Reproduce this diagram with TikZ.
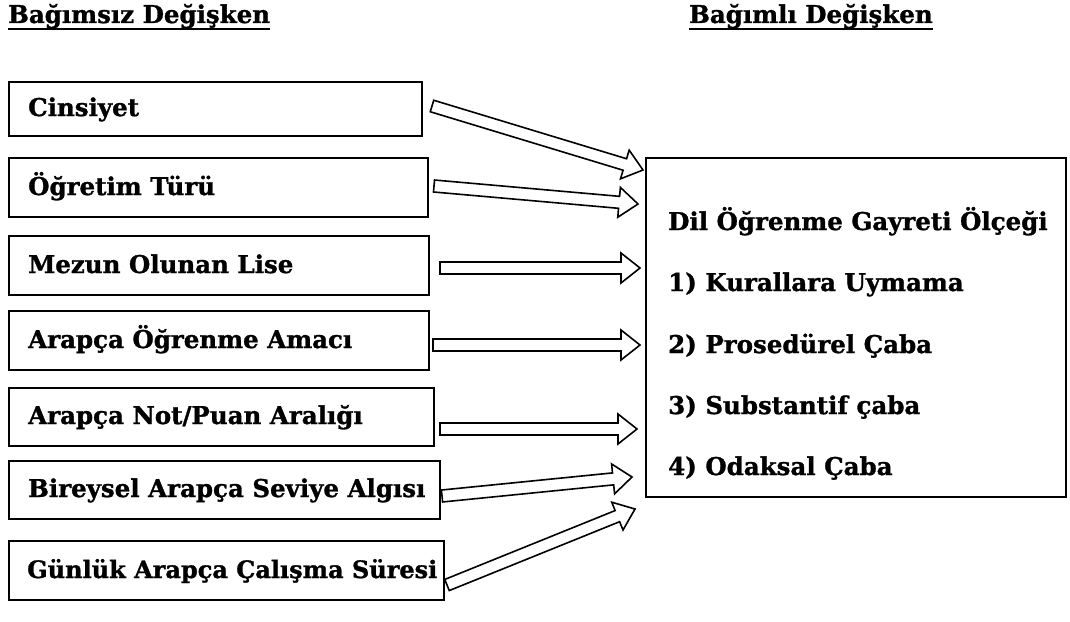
\documentclass[tikz,border=0pt]{standalone}
\usepackage{fontspec}
\setmainfont{DejaVu Serif}[BoldFeatures={FakeBold=1.2}]
\usetikzlibrary{calc}
\tikzset{
  txt/.style={font=\bfseries\fontsize{24.5}{28}\selectfont, inner sep=0pt, anchor=base west},
  lbox/.style={draw, line width=1.5pt, inner sep=0pt},
  barrow/.style={draw, line width=1.6pt, line join=miter, fill=white},
}
\newcommand\blockarr[2]{%
  \coordinate (#1h) at ($(#2)!19pt!(#1)$);
  \draw[barrow] ($(#1)!6pt!90:(#2)$) -- ($(#1h)!6pt!-90:(#1)$) -- ($(#1h)!15pt!-90:(#1)$)
    -- (#2) -- ($(#1h)!15pt!90:(#1)$) -- ($(#1h)!6pt!90:(#1)$) -- ($(#1)!6pt!-90:(#2)$) -- cycle;
}
\begin{document}
\begin{tikzpicture}[x=1pt,y=-1pt]
\useasboundingbox (0,0) rectangle (1070,621);
% headers
\node[txt] (h1) at (8,23) {Bağımsız Değişken};
\node[txt] (h2) at (689,23) {Bağımlı Değişken};
\draw[line width=2pt] ([yshift=-6pt]h1.base west) -- ([yshift=-6pt]h1.base east);
\draw[line width=2pt] ([yshift=-6pt]h2.base west) -- ([yshift=-6pt]h2.base east);
% left boxes
\node[lbox, minimum width=413pt, minimum height=54pt] (b1) at (215.5,109) {};
\node[lbox, minimum width=419pt, minimum height=59pt] (b2) at (218.5,187.5) {};
\node[lbox, minimum width=420pt, minimum height=59pt] (b3) at (219,265.5) {};
\node[lbox, minimum width=420pt, minimum height=59pt] (b4) at (219,340.5) {};
\node[lbox, minimum width=425pt, minimum height=58pt] (b5) at (221.5,417) {};
\node[lbox, minimum width=431pt, minimum height=58pt] (b6) at (224.5,490) {};
\node[lbox, minimum width=435pt, minimum height=59pt] (b7) at (226.5,570.5) {};
\node[txt] (l1) at (28,116) {Cinsiyet};
\node[txt] (l2) at (28,195) {Öğretim Türü};
\node[txt] (l3) at (28,273) {Mezun Olunan Lise};
\node[txt] (l4) at (28,348) {Arapça Öğrenme Amacı};
\node[txt] (l5) at (28,424) {Arapça Not/Puan Aralığı};
\node[txt] (l6) at (28,497) {Bireysel Arapça Seviye Algısı};
\node[txt, font=\bfseries\fontsize{24}{28}\selectfont] (l7) at (27,578) {Günlük Arapça Çalışma Süresi};
% right box
\node[lbox, minimum width=420pt, minimum height=339pt] (r) at (856,327.5) {};
\node[txt] (t0) at (668,230) {Dil Öğrenme Gayreti Ölçeği};
\node[txt] (t1) at (668,291) {1) Kurallara Uymama};
\node[txt] (t2) at (668,353) {2) Prosedürel Çaba};
\node[txt] (t3) at (668,414) {3) Substantif çaba};
\node[txt] (t4) at (668,475) {4) Odaksal Çaba};
% arrow ends
\coordinate (s1) at (432,106); \coordinate (e1) at (643,170);
\coordinate (s2) at (434,186); \coordinate (e2) at (638,204);
\coordinate (s3) at (440,268); \coordinate (e3) at (640,268);
\coordinate (s4) at (433,345); \coordinate (e4) at (640,345);
\coordinate (s5) at (440,429); \coordinate (e5) at (637,429);
\coordinate (s6) at (442,496); \coordinate (e6) at (632,477);
\coordinate (s7) at (447,585); \coordinate (e7) at (635,509);
\blockarr{s1}{e1}
\blockarr{s2}{e2}
\blockarr{s3}{e3}
\blockarr{s4}{e4}
\blockarr{s5}{e5}
\blockarr{s6}{e6}
\blockarr{s7}{e7}
\end{tikzpicture}
\end{document}
